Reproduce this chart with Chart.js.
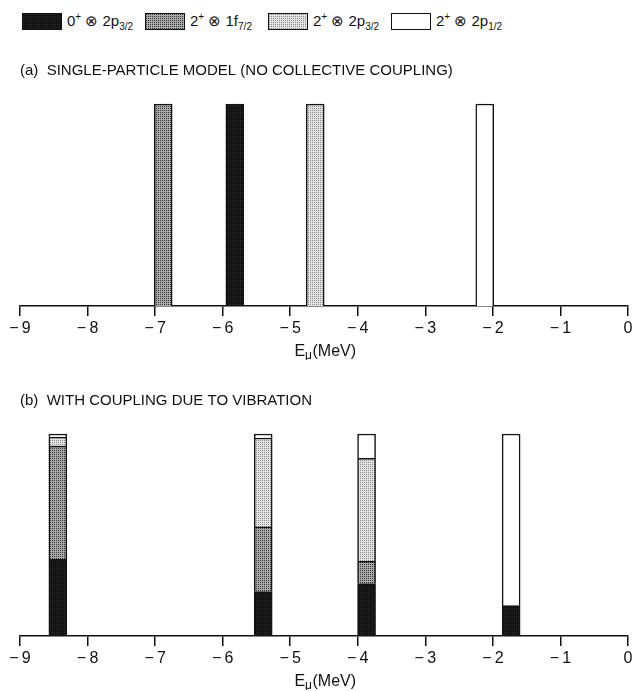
<!DOCTYPE html>
<html>
<head>
<meta charset="utf-8">
<script src="https://cdn.jsdelivr.net/npm/chart.js@4.4.1/dist/chart.umd.min.js"></script>
<style>
  body { margin: 0; background: #fff; width: 637px; height: 691px; position: relative; overflow: hidden;
         font-family: "Liberation Sans", Arial, Helvetica, sans-serif; color: #111; }
  #legend { position: absolute; top: 12px; left: 22px; display: flex; align-items: center; font-size: 15px; }
  #legend .item { display: flex; align-items: center; gap: 5px; width: 123px; flex: none; }
  #legend .sw { width: 38px; height: 15px; border: 1.5px solid #111; flex: none; }
  #legend sup, #legend sub { font-size: 10px; line-height: 0; }
  .box { position: absolute; left: 0; width: 637px; height: 308px; }
</style>
</head>
<body>
<div id="legend"></div>
<div class="box" style="top:52px"><canvas id="chartA"></canvas></div>
<div class="box" style="top:382px"><canvas id="chartB"></canvas></div>
<script>
const FONT = '"Liberation Sans", Arial, Helvetica, sans-serif';

// configurations (legend order)
const configs = ['0+ ⊗ 2p3/2', '2+ ⊗ 1f7/2', '2+ ⊗ 2p3/2', '2+ ⊗ 2p1/2'];
const configsHtml = ['0<sup>+</sup> ⊗ 2p<sub>3/2</sub>', '2<sup>+</sup> ⊗ 1f<sub>7/2</sub>',
                     '2<sup>+</sup> ⊗ 2p<sub>3/2</sub>', '2<sup>+</sup> ⊗ 2p<sub>1/2</sub>'];

// (a) single-particle model: one level per configuration, E (MeV)
const levelsA = [-5.82, -6.88, -4.63, -2.12];
const strengthA = [1, 1, 1, 1];

// (b) with coupling: four states, each a mix of the configurations
const levelsB = [-8.44, -5.40, -3.87, -1.73];
const mix0p32 = [0.38, 0.22, 0.26, 0.15];
const mix2f72 = [0.56, 0.32, 0.11, 0];
const mix2p32 = [0.045, 0.44, 0.51, 0];
const mix2p12 = [0.015, 0.02, 0.12, 0.85];

const xMin = -9, xMax = 0;

// stipple fills (2x2 tiles: one dot + three background pixels)
function stipple(dot, bg) {
  const cv = document.createElement('canvas');
  cv.width = 2; cv.height = 2;
  const g = cv.getContext('2d');
  g.fillStyle = bg; g.fillRect(0, 0, 2, 2);
  g.fillStyle = dot; g.fillRect(0, 0, 1, 1);
  return cv;
}
const patCanvas = [
  stipple('#2a2a2a', '#111'),
  stipple('#333', '#ababab'),
  stipple('#8c8c8c', '#e2e2e2'),
  stipple('#fff', '#fff')
];
const ctxTmp = document.createElement('canvas').getContext('2d');
const fills = patCanvas.map(c => ctxTmp.createPattern(c, 'repeat'));

// legend
const legend = document.getElementById('legend');
configsHtml.forEach((t, i) => {
  const it = document.createElement('div');
  it.className = 'item';
  it.innerHTML = '<div class="sw" style="background-image:url(' + patCanvas[i].toDataURL() + ')"></div><span>' + t + '</span>';
  legend.appendChild(it);
});

const axisTitle = {
  id: 'axisTitle',
  afterDraw(chart) {
    const {ctx, chartArea} = chart;
    const cx = (chartArea.left + chartArea.right) / 2 + 1;
    const cy = chart.scales.x.bottom + 14;
    const big = '16px ' + FONT, small = '12px ' + FONT;
    ctx.save();
    ctx.fillStyle = '#111';
    ctx.textBaseline = 'middle';
    ctx.textAlign = 'left';
    ctx.font = big;
    const wE = ctx.measureText('E').width, wM = ctx.measureText('(MeV)').width;
    ctx.font = small;
    const wMu = ctx.measureText('μ').width;
    let x = cx - (wE + wMu + wM) / 2;
    ctx.font = big; ctx.fillText('E', x, cy); x += wE;
    ctx.font = small; ctx.fillText('μ', x, cy + 4); x += wMu + 0.5;
    ctx.font = big; ctx.fillText('(MeV)', x, cy);
    ctx.restore();
  }
};

function options(title, stacked) {
  return {
    responsive: true,
    maintainAspectRatio: false,
    animation: false,
    layout: { padding: { left: 20, right: 9, top: 0, bottom: 22 } },
    plugins: {
      legend: { display: false },
      tooltip: { enabled: false },
      title: {
        display: true, text: title, align: 'start', color: '#111',
        font: { family: FONT, size: 15, weight: 'normal' },
        padding: { top: 9.5, bottom: 24.5 }
      }
    },
    scales: {
      x: {
        type: 'linear', min: xMin, max: xMax, offset: false, stacked: stacked,
        afterFit: s => { s.height = 32; },
        ticks: {
          stepSize: 1, color: '#111', padding: 3,
          font: { family: FONT, size: 16 },
          callback: v => v === 0 ? '0' : '\u2212\u2009' + Math.abs(v)
        },
        grid: { display: true, offset: false, drawOnChartArea: false, drawTicks: true, tickLength: 10, color: '#111', lineWidth: 1.5 },
        border: { display: true, color: '#111', width: 1.5 }
      },
      y: { display: false, min: 0, max: 1, stacked: stacked }
    }
  };
}

function barSet(label, xs, ys, fill) {
  return {
    label: label,
    data: xs.map((x, i) => ({ x: x, y: ys[i] })),
    backgroundColor: fill,
    borderColor: '#111',
    borderWidth: 1.5,
    barThickness: 18,
    grouped: false,
    clip: false
  };
}

new Chart(document.getElementById('chartA'), {
  type: 'bar',
  data: {
    datasets: configs.map((c, i) => barSet(c, [levelsA[i]], [strengthA[i]], fills[i]))
  },
  options: options('(a)  SINGLE-PARTICLE MODEL (NO COLLECTIVE COUPLING)', false),
  plugins: [axisTitle]
});

const mixes = [mix0p32, mix2f72, mix2p32, mix2p12];
new Chart(document.getElementById('chartB'), {
  type: 'bar',
  data: {
    datasets: configs.map((c, i) => barSet(c, levelsB, mixes[i], fills[i]))
  },
  options: options('(b)  WITH COUPLING DUE TO VIBRATION', true),
  plugins: [axisTitle]
});
</script>
</body>
</html>
